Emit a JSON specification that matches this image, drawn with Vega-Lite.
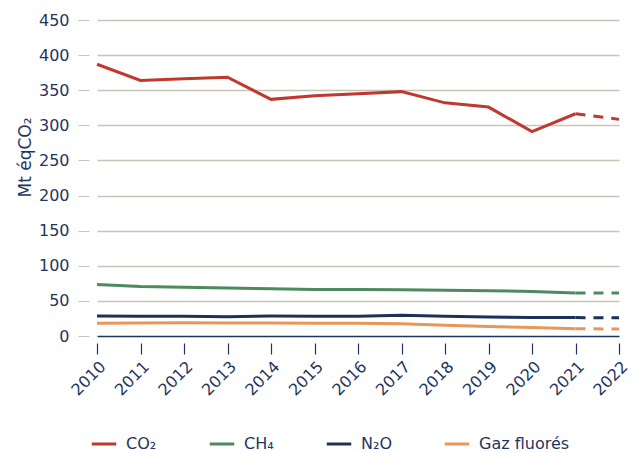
{
  "$schema": "https://vega.github.io/schema/vega-lite/v6.json",
  "width": 522,
  "height": 316,
  "autosize": {"type": "none"},
  "padding": {"left": 97, "top": 20, "right": 21, "bottom": 117},
  "background": "white",
  "config": {
    "font": "DejaVu Sans",
    "view": {"stroke": null},
    "axis": {"labelColor": "#1f3560", "titleColor": "#1f3560", "labelFont": "DejaVu Sans", "titleFont": "DejaVu Sans"}
  },
  "data": {
    "values": [
      {"year": 2010, "gas": "CO₂", "value": 387},
      {"year": 2011, "gas": "CO₂", "value": 364},
      {"year": 2012, "gas": "CO₂", "value": 366.5},
      {"year": 2013, "gas": "CO₂", "value": 368.5},
      {"year": 2014, "gas": "CO₂", "value": 337},
      {"year": 2015, "gas": "CO₂", "value": 342},
      {"year": 2016, "gas": "CO₂", "value": 345},
      {"year": 2017, "gas": "CO₂", "value": 348},
      {"year": 2018, "gas": "CO₂", "value": 332},
      {"year": 2019, "gas": "CO₂", "value": 326},
      {"year": 2020, "gas": "CO₂", "value": 291},
      {"year": 2021, "gas": "CO₂", "value": 316.5},
      {"year": 2022, "gas": "CO₂", "value": 308.5},
      {"year": 2010, "gas": "CH₄", "value": 73.3},
      {"year": 2011, "gas": "CH₄", "value": 70.4},
      {"year": 2012, "gas": "CH₄", "value": 69.5},
      {"year": 2013, "gas": "CH₄", "value": 68.5},
      {"year": 2014, "gas": "CH₄", "value": 67.3},
      {"year": 2015, "gas": "CH₄", "value": 66.2},
      {"year": 2016, "gas": "CH₄", "value": 66.2},
      {"year": 2017, "gas": "CH₄", "value": 65.8},
      {"year": 2018, "gas": "CH₄", "value": 65},
      {"year": 2019, "gas": "CH₄", "value": 64.5},
      {"year": 2020, "gas": "CH₄", "value": 63.3},
      {"year": 2021, "gas": "CH₄", "value": 61.4},
      {"year": 2022, "gas": "CH₄", "value": 61.2},
      {"year": 2010, "gas": "N₂O", "value": 28.5},
      {"year": 2011, "gas": "N₂O", "value": 28},
      {"year": 2012, "gas": "N₂O", "value": 28.2},
      {"year": 2013, "gas": "N₂O", "value": 27.5},
      {"year": 2014, "gas": "N₂O", "value": 28.5},
      {"year": 2015, "gas": "N₂O", "value": 28.2},
      {"year": 2016, "gas": "N₂O", "value": 28.3},
      {"year": 2017, "gas": "N₂O", "value": 29.5},
      {"year": 2018, "gas": "N₂O", "value": 28},
      {"year": 2019, "gas": "N₂O", "value": 27},
      {"year": 2020, "gas": "N₂O", "value": 26.5},
      {"year": 2021, "gas": "N₂O", "value": 26.2},
      {"year": 2022, "gas": "N₂O", "value": 26},
      {"year": 2010, "gas": "Gaz fluorés", "value": 18},
      {"year": 2011, "gas": "Gaz fluorés", "value": 18.5},
      {"year": 2012, "gas": "Gaz fluorés", "value": 19},
      {"year": 2013, "gas": "Gaz fluorés", "value": 18.6},
      {"year": 2014, "gas": "Gaz fluorés", "value": 18.4},
      {"year": 2015, "gas": "Gaz fluorés", "value": 18.1},
      {"year": 2016, "gas": "Gaz fluorés", "value": 18},
      {"year": 2017, "gas": "Gaz fluorés", "value": 17.5},
      {"year": 2018, "gas": "Gaz fluorés", "value": 15.2},
      {"year": 2019, "gas": "Gaz fluorés", "value": 13.5},
      {"year": 2020, "gas": "Gaz fluorés", "value": 12},
      {"year": 2021, "gas": "Gaz fluorés", "value": 10.4},
      {"year": 2022, "gas": "Gaz fluorés", "value": 10}
    ]
  },
  "encoding": {
    "x": {
      "field": "year", "type": "quantitative",
      "scale": {"domain": [2010, 2022], "nice": false, "zero": false},
      "axis": {
        "values": [2010, 2011, 2012, 2013, 2014, 2015, 2016, 2017, 2018, 2019, 2020, 2021, 2022],
        "format": "d", "title": null, "grid": false, "domain": false,
        "offset": 7, "tickSize": 11, "tickColor": "#1f3560", "tickWidth": 1.2,
        "labelAngle": -45, "labelFontSize": 16, "labelPadding": 4
      }
    },
    "y": {
      "field": "value", "type": "quantitative",
      "scale": {"domain": [0, 450], "nice": false},
      "axis": {
        "values": [0, 50, 100, 150, 200, 250, 300, 350, 400, 450],
        "title": "Mt éqCO₂", "titleFontSize": 17, "titleFontWeight": "normal", "titlePadding": 4, "titleY": 137,
        "domain": false, "offset": 8, "tickSize": 11, "tickColor": "#c8c4b6", "labelPadding": 9,
        "labelFontSize": 16,
        "gridColor": {"condition": {"test": "datum.value === 0", "value": "#1f3560"}, "value": "#c8c4b6"},
        "gridWidth": 1.5
      }
    },
    "color": {
      "field": "gas", "type": "nominal",
      "scale": {"domain": ["CO₂", "CH₄", "N₂O", "Gaz fluorés"], "range": ["#c0392f", "#4e8a5f", "#1c305a", "#e8965a"]},
      "legend": {
        "title": null, "orient": "none", "direction": "horizontal", "legendX": -7, "legendY": 410,
        "symbolType": "stroke", "symbolSize": 600, "symbolStrokeWidth": 3, "symbolDash": [1, 0],
        "labelFontSize": 16, "labelColor": "#1f3560", "labelFont": "DejaVu Sans", "columnPadding": 46, "labelOffset": 8
      }
    }
  },
  "layer": [
    {
      "transform": [{"filter": "datum.year <= 2021"}],
      "mark": {"type": "line", "strokeWidth": 3}
    },
    {
      "transform": [{"filter": "datum.year >= 2021"}],
      "mark": {"type": "line", "strokeWidth": 3, "strokeDash": [10, 8]}
    }
  ]
}
